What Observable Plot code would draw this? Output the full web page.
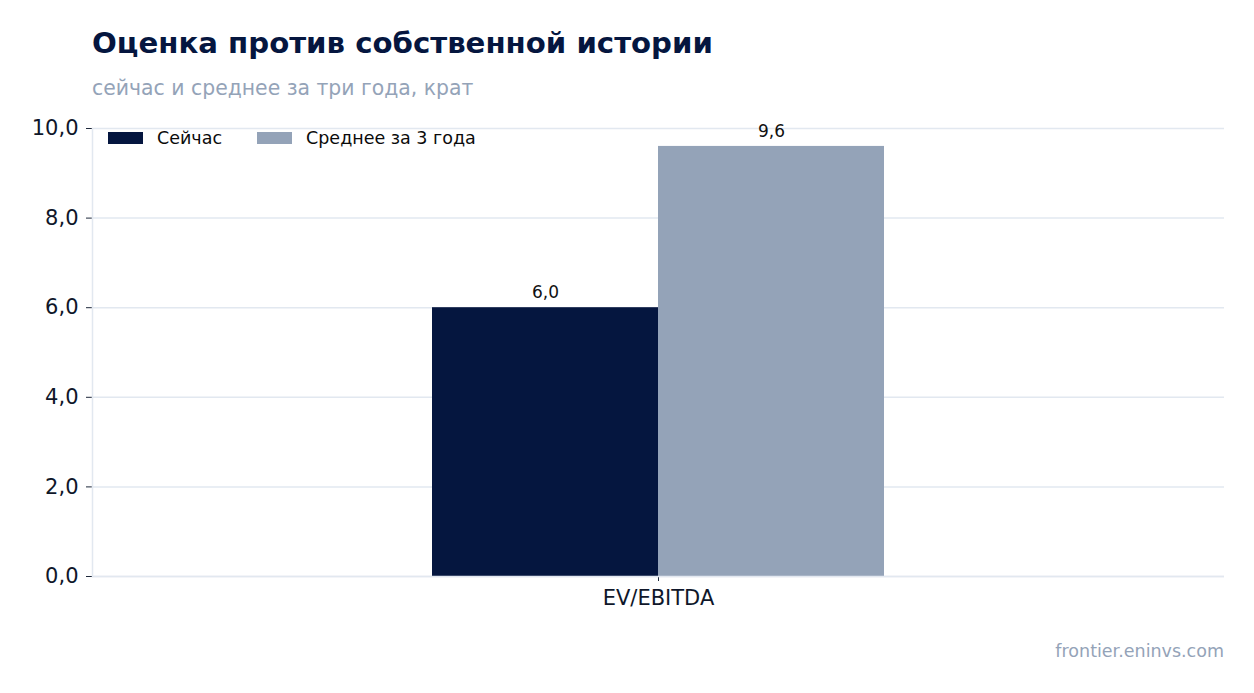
<!DOCTYPE html>
<html><head><meta charset="utf-8">
<script src="https://cdn.jsdelivr.net/npm/d3@7"></script>
<script src="https://cdn.jsdelivr.net/npm/@observablehq/plot@0.6"></script>
<style>
html,body{margin:0;padding:0;background:#fff;}
body{width:1254px;height:693px;overflow:hidden;font-family:"DejaVu Sans",sans-serif;position:relative;}
#title{position:absolute;left:92px;top:26px;font-size:29.2px;font-weight:bold;color:#05163f;white-space:nowrap;}
#subtitle{position:absolute;left:92px;top:76px;font-size:20.4px;color:#94a3b8;white-space:nowrap;}
#chart{position:absolute;left:0;top:110px;}
#legend{position:absolute;left:108px;top:128px;font-size:17.5px;color:#0b0b0b;display:flex;align-items:center;}
#legend .it{display:flex;align-items:center;margin-right:35px;}
#legend .sw{width:35px;height:12px;margin-right:14px;}
#footer{position:absolute;right:30px;top:641px;font-size:17.5px;color:#94a3b8;}
</style></head>
<body>
<div id="title">Оценка против собственной истории</div>
<div id="subtitle">сейчас и среднее за три года, крат</div>
<div id="chart"></div>
<div id="legend"></div>
<div id="footer">frontier.eninvs.com</div>
<script>
const categories = ["EV/EBITDA"];
const seriesNames = ["Сейчас", "Среднее за 3 года"];
const seriesColors = ["#05163f", "#94a3b8"];
const valuesNow = [6.0];
const valuesAvg = [9.6];
const yTicks = [0, 2, 4, 6, 8, 10];

const data = [];
categories.forEach((c, i) => {
  data.push({cat: c, series: seriesNames[0], value: valuesNow[i]});
  data.push({cat: c, series: seriesNames[1], value: valuesAvg[i]});
});
const fmt = v => v.toFixed(1).replace(".", ",");

const chart = Plot.plot({
  width: 1254,
  height: 520,
  marginLeft: 92,
  marginRight: 30,
  marginTop: 18,
  marginBottom: 54,
  style: {fontFamily: "DejaVu Sans, sans-serif", background: "#fff", color: "#0f172a"},
  fx: {domain: categories, padding: 0, label: null},
  x: {domain: seriesNames, paddingInner: 0, paddingOuter: 1.5, axis: null},
  y: {domain: [0, 10], ticks: yTicks, tickFormat: fmt, label: null},
  color: {domain: seriesNames, range: seriesColors},
  marks: [
    Plot.gridY(yTicks, {stroke: "#e2e8f0", strokeOpacity: 1, strokeWidth: 1.5}),
    Plot.axisY(yTicks, {tickFormat: fmt, fontSize: 21, tickSize: 6, tickPadding: 8, stroke: "#1e293b", fill: "#0f172a", label: null}),
    Plot.axisFx({anchor: "bottom", fontSize: 21, tickSize: 5, tickPadding: 9, stroke: "#1e293b", fill: "#0f172a", label: null}),
    Plot.barY(data, {fx: "cat", x: "series", y: "value", fill: "series", inset: 0}),
    Plot.text(data, {fx: "cat", x: "series", y: "value", text: d => fmt(d.value), dy: -15, fontSize: 17, fill: "#111"}),
    Plot.ruleY([0], {stroke: "#e2e8f0", strokeWidth: 1.5}),
    Plot.frame({anchor: "left", stroke: "#e2e8f0", strokeWidth: 1.5})
  ]
});
document.getElementById("chart").appendChild(chart);

const lg = document.getElementById("legend");
seriesNames.forEach((s, i) => {
  const it = document.createElement("div");
  it.className = "it";
  const sw = document.createElement("div");
  sw.className = "sw";
  sw.style.background = seriesColors[i];
  const t = document.createElement("span");
  t.textContent = s;
  it.appendChild(sw); it.appendChild(t);
  lg.appendChild(it);
});
</script>
</body></html>
